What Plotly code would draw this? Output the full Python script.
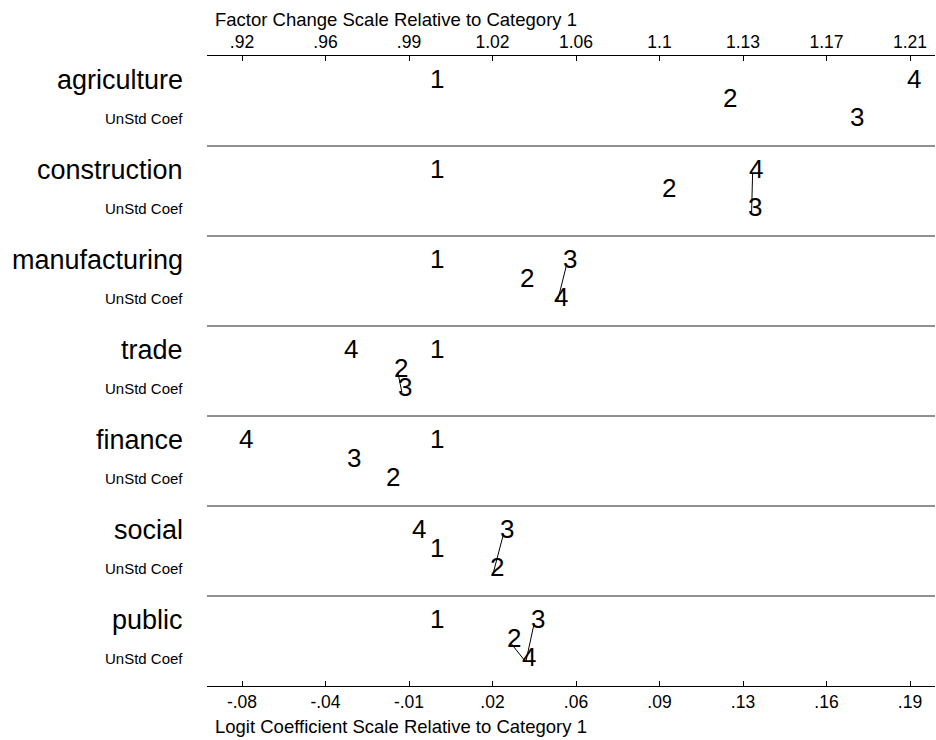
import numpy as np
import plotly.graph_objects as go

rows = ["agriculture", "construction", "manufacturing", "trade", "finance", "social", "public"]
categories = ["1", "2", "3", "4"]
# logit coefficients relative to category 1
coef1 = [0, 0, 0, 0, 0, 0, 0]
coef2 = [0.1209, 0.0958, 0.0371, -0.0146, -0.0179, 0.0248, 0.0319]
coef3 = [0.1732, 0.1312, 0.0550, -0.0130, -0.0340, 0.0289, 0.0415]
coef4 = [0.1965, 0.1316, 0.0511, -0.0353, -0.0789, -0.0072, 0.0381]
# pairs of categories not significantly different (connected)
links = [[], [("3", "4")], [("3", "4")], [("2", "3")], [], [("2", "3")], [("2", "4"), ("3", "4")]]
bottom_ticktext = ["-.08", "-.04", "-.01", ".02", ".06", ".09", ".13", ".16", ".19"]
top_ticktext = [".92", ".96", ".99", "1.02", "1.06", "1.1", "1.13", "1.17", "1.21"]
sublabel = "UnStd Coef"

FONT = "Liberation Sans, Arial, Helvetica, sans-serif"
PANEL = 90
LEVEL_Y = [28, 47, 66]

allv = np.array([coef1, coef2, coef3, coef4], dtype=float)
vmin, vmax = allv.min(), allv.max()
span = vmax - vmin
tickvals = np.linspace(vmin, vmax, 9)
xr = [vmin - span * 35 / 668, vmax + span * 25 / 668]

fig = go.Figure()
annotations = []
shapes = []
ncol = [coef1, coef2, coef3, coef4]
for i, r in enumerate(rows):
    top = i * PANEL
    vals = {c: ncol[k][i] for k, c in enumerate(categories)}
    order = sorted(categories, key=lambda c: vals[c])
    ypos = {c: top + LEVEL_Y[rank % 3] for rank, c in enumerate(order)}
    for a, b in links[i]:
        fig.add_trace(go.Scatter(x=[vals[a], vals[b]], y=[ypos[a], ypos[b]], mode="lines",
                                 line=dict(color="black", width=1), showlegend=False,
                                 hoverinfo="skip", xaxis="x", yaxis="y"))
    for c in categories:
        annotations.append(dict(x=vals[c], y=ypos[c], xref="x", yref="y", text=c, showarrow=False,
                                xshift=3.5, yshift=5, font=dict(family=FONT, size=26, color="black"),
                                xanchor="center", yanchor="middle"))
    annotations.append(dict(x=0, y=top + 24, xref="paper", yref="y", text=r, showarrow=False,
                            xanchor="right", yanchor="middle", xshift=-22,
                            font=dict(family=FONT, size=27, color="black")))
    annotations.append(dict(x=0, y=top + 62, xref="paper", yref="y", text=sublabel, showarrow=False,
                            xanchor="right", yanchor="middle", xshift=-22,
                            font=dict(family=FONT, size=15, color="black")))
    if i > 0:
        shapes.append(dict(type="line", xref="paper", yref="y", x0=0, x1=1, y0=top, y1=top,
                           line=dict(color="#222222", width=1)))

# invisible trace to activate top axis
fig.add_trace(go.Scatter(x=[vmin, vmax], y=[0, 0], mode="markers", marker=dict(opacity=0),
                         showlegend=False, hoverinfo="skip", xaxis="x2", yaxis="y"))

annotations.append(dict(x=0, y=1, xref="paper", yref="paper", yanchor="middle", xanchor="left",
                        xshift=6, yshift=37, text="Factor Change Scale Relative to Category 1",
                        showarrow=False, font=dict(family=FONT, size=18.5, color="black")))
annotations.append(dict(x=0, y=0, xref="paper", yref="paper", yanchor="middle", xanchor="left",
                        xshift=6, yshift=-40, text="Logit Coefficient Scale Relative to Category 1",
                        showarrow=False, font=dict(family=FONT, size=18.5, color="black")))

axis_common = dict(range=xr, tickmode="array", tickvals=tickvals, ticks="inside", ticklen=5,
                   tickcolor="black", showline=True, linecolor="black", linewidth=1,
                   showgrid=False, zeroline=False,
                   tickfont=dict(family=FONT, size=17.5, color="black"))
fig.update_layout(
    width=936, height=740,
    margin=dict(l=207, r=1, t=56, b=54),
    paper_bgcolor="white", plot_bgcolor="white",
    xaxis=dict(side="bottom", ticktext=bottom_ticktext, **axis_common),
    xaxis2=dict(side="top", overlaying="x", matches="x", ticktext=top_ticktext, **axis_common),
    yaxis=dict(range=[PANEL * len(rows), 0], showticklabels=False, showgrid=False,
               zeroline=False, showline=False, ticks=""),
    annotations=annotations, shapes=shapes, showlegend=False,
)
fig.write_html("out.html")
